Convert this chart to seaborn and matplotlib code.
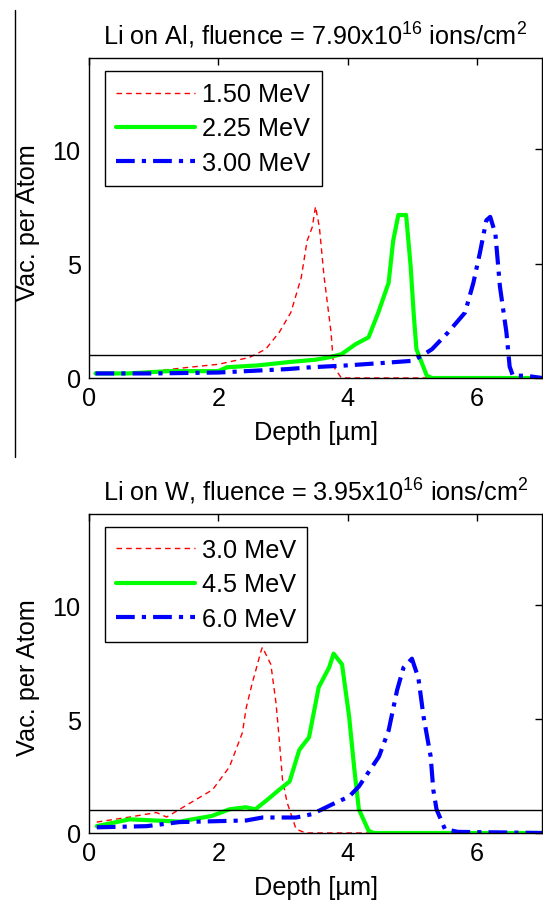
import numpy as np
import pandas as pd
import matplotlib
matplotlib.use("Agg")
import matplotlib.pyplot as plt
import seaborn as sns
from matplotlib.lines import Line2D

# data (depth in um, vacancies per atom)
al_labels = ['1.50 MeV', '2.25 MeV', '3.00 MeV']
al_x_150 = [0.1, 0.63, 1.0, 1.55, 2.0, 2.48, 2.73, 2.94, 3.12, 3.28, 3.37, 3.45, 3.5, 3.56, 3.63, 3.74, 3.78, 3.9, 5.3, 7.0]
al_y_150 = [0.2, 0.17, 0.3, 0.47, 0.6, 0.9, 1.26, 2.0, 2.87, 4.4, 6.0, 6.6, 7.5, 6.6, 4.5, 2.0, 0.5, 0.0, 0.0, 0.0]
al_x_225 = [0.1, 0.6, 1.23, 2.0, 2.13, 2.6, 3.1, 3.5, 3.7, 3.9, 4.12, 4.32, 4.47, 4.63, 4.7, 4.78, 4.9, 4.97, 5.02, 5.06, 5.22, 5.3, 7.0]
al_y_225 = [0.2, 0.2, 0.3, 0.3, 0.47, 0.55, 0.7, 0.8, 0.9, 1.04, 1.48, 1.78, 2.86, 4.17, 6.0, 7.13, 7.13, 4.9, 2.7, 1.26, 0.1, 0.0, 0.0]
al_x_300 = [0.1, 1.0, 2.0, 3.07, 3.43, 3.98, 4.5, 4.99, 5.14, 5.3, 5.55, 5.81, 5.94, 6.04, 6.14, 6.2, 6.28, 6.35, 6.45, 6.5, 6.55, 6.75, 7.0]
al_y_300 = [0.2, 0.2, 0.24, 0.39, 0.47, 0.55, 0.65, 0.75, 0.97, 1.26, 2.0, 2.86, 4.17, 5.47, 6.9, 7.05, 6.3, 4.0, 2.0, 0.5, 0.1, 0.1, 0.0]

w_labels = ['3.0 MeV', '4.5 MeV', '6.0 MeV']
w_x_30 = [0.12, 0.63, 1.04, 1.2, 1.4, 1.91, 2.17, 2.37, 2.43, 2.52, 2.66, 2.68, 2.81, 2.89, 2.94, 2.99, 3.06, 3.2, 3.35, 7.0]
w_y_30 = [0.48, 0.7, 0.9, 0.7, 1.04, 1.9, 2.9, 4.4, 5.5, 6.55, 8.0, 8.15, 7.4, 5.7, 4.1, 2.35, 1.35, 0.17, 0.0, 0.0]
w_x_45 = [0.12, 0.63, 1.4, 1.9, 2.17, 2.42, 2.57, 2.73, 2.94, 3.1, 3.25, 3.4, 3.55, 3.71, 3.78, 3.91, 4.02, 4.1, 4.17, 4.32, 4.4, 7.0]
w_y_45 = [0.3, 0.6, 0.5, 0.75, 1.04, 1.13, 1.04, 1.4, 1.9, 2.26, 3.65, 4.2, 6.4, 7.26, 7.87, 7.4, 5.1, 2.8, 1.04, 0.1, 0.0, 0.0]
w_x_60 = [0.12, 0.89, 1.4, 2.43, 2.68, 3.2, 3.45, 3.76, 4.02, 4.17, 4.48, 4.63, 4.76, 4.86, 4.99, 5.09, 5.17, 5.28, 5.32, 5.37, 5.5, 5.7, 7.0]
w_y_60 = [0.25, 0.3, 0.48, 0.55, 0.68, 0.68, 0.83, 1.26, 1.6, 2.04, 3.35, 4.5, 6.26, 7.26, 7.65, 6.8, 5.1, 3.35, 1.9, 1.04, 0.17, 0.05, 0.0]

threshold = 1.0

sns.set_theme(style="white")
plt.rcParams['font.family'] = ['Liberation Sans', 'DejaVu Sans']
plt.rcParams['mathtext.fontset'] = 'custom'
plt.rcParams['mathtext.rm'] = 'Liberation Sans'
plt.rcParams['mathtext.it'] = 'Liberation Sans'
plt.rcParams['axes.unicode_minus'] = False
plt.rcParams['text.color'] = 'black'

FS = 18.2
styles = [
    dict(color=(1, 0, 0), linestyle=(0, (4, 3)), linewidth=1.0),
    dict(color=(0, 1, 0), linestyle='-', linewidth=3.0),
    dict(color=(0, 0, 1), linestyle=(0, (4.5, 1.7, 1, 1.7)), linewidth=3.0),
]

fig = plt.figure(figsize=(5.43, 9.03), dpi=100)
ax1 = fig.add_axes([89 / 543, (903 - 379) / 903, 453 / 543, 320 / 903])
ax2 = fig.add_axes([89 / 543, (903 - 834) / 903, 453 / 543, 319 / 903])


def draw(ax, xs, ys, labels, title):
    for x, y, lab, st in zip(xs, ys, labels, styles):
        df = pd.DataFrame({'depth': x, 'vac': y})
        sns.lineplot(data=df, x='depth', y='vac', ax=ax, estimator=None,
                     label=lab, **st)
    ax.axhline(threshold, color='black', linewidth=1.0)
    ax.set_xlim(0, 7)
    ax.set_ylim(0, 14)
    ax.set_xticks([0, 2, 4, 6])
    ax.set_yticks([0, 5, 10])
    ax.tick_params(direction='in', top=True, right=True, length=5, width=1,
                   labelsize=FS, colors='black', pad=6)
    for s in ax.spines.values():
        s.set_color('black')
        s.set_linewidth(1.0)
        s.set_visible(True)
    ax.set_xlabel('Depth [µm]', fontsize=FS, color='black', labelpad=7)
    ax.set_ylabel('Vac. per Atom', fontsize=FS, color='black')
    ax.yaxis.set_label_coords(-0.108, 0.49)
    ax.set_title(title, fontsize=FS, color='black', pad=10)
    leg = ax.legend(loc='upper left', bbox_to_anchor=(16 / 453, 1 - 13 / 320),
                    borderaxespad=0, fontsize=FS, frameon=True, fancybox=False,
                    framealpha=1, edgecolor='black', handlelength=3.1,
                    handletextpad=0.28, labelspacing=0.4, borderpad=0.45)
    leg.get_frame().set_linewidth(1.0)
    for t in leg.get_texts():
        t.set_color('black')


draw(ax1, [al_x_150, al_x_225, al_x_300], [al_y_150, al_y_225, al_y_300], al_labels,
     r'Li on Al, fluence = 7.90x10$^{16}$ ions/cm$^{2}$')
draw(ax2, [w_x_30, w_x_45, w_x_60], [w_y_30, w_y_45, w_y_60], w_labels,
     r'Li on W, fluence = 3.95x10$^{16}$ ions/cm$^{2}$')

# thin vertical rule at the left edge of the upper panel
fig.add_artist(Line2D([15 / 543, 15 / 543], [1 - 11 / 903, 1 - 458 / 903],
                      color='black', linewidth=1.0, transform=fig.transFigure))

fig.savefig('out.png', dpi=100)
